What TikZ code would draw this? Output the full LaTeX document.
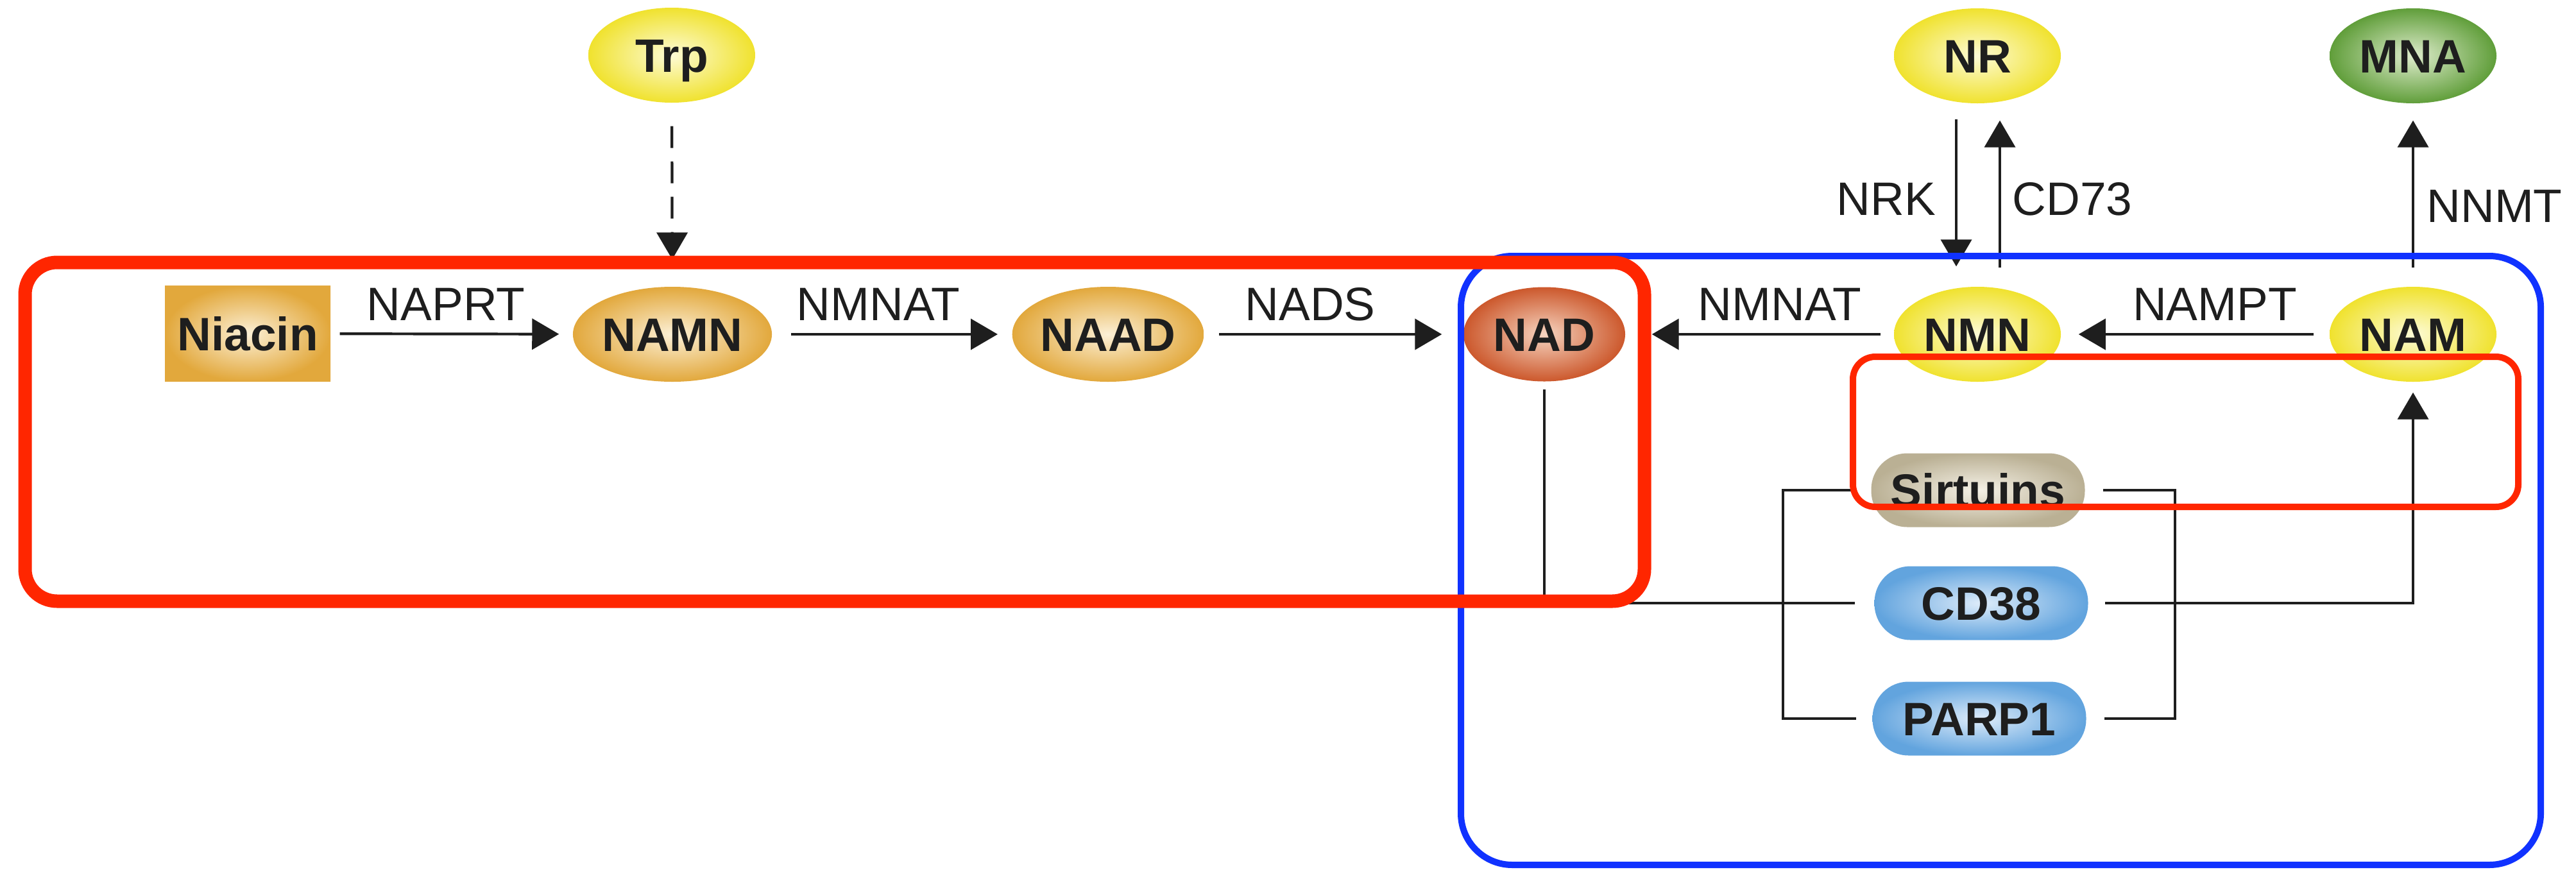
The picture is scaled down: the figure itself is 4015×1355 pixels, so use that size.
\documentclass[tikz,border=0pt]{standalone}
\usepackage{fontspec}
\setmainfont{Liberation Sans}
\usetikzlibrary{arrows.meta,shapes.geometric}
\definecolor{goldout}{RGB}{226,168,60}
\definecolor{goldin}{RGB}{252,240,214}
\definecolor{yelout}{RGB}{240,226,46}
\definecolor{yelin}{RGB}{253,251,214}
\definecolor{nadout}{RGB}{204,88,44}
\definecolor{nadin}{RGB}{246,212,192}
\definecolor{grnout}{RGB}{96,158,58}
\definecolor{grnin}{RGB}{222,236,204}
\definecolor{bluout}{RGB}{98,164,222}
\definecolor{bluin}{RGB}{222,236,250}
\definecolor{sirout}{RGB}{186,176,148}
\definecolor{sirin}{RGB}{245,241,230}
\definecolor{boxred}{RGB}{255,38,0}
\definecolor{boxblue}{RGB}{16,50,255}
\definecolor{ink}{RGB}{30,30,30}
\begin{document}
\begin{tikzpicture}[x=0.1mm,y=-0.1mm,
  lbl/.style={font=\fontsize{20.8pt}{24pt}\selectfont, anchor=base, inner sep=0pt, text=ink},
  mol/.style={ellipse, minimum width=26mm, minimum height=14.8mm, inner sep=0pt,
    shading=radial, font=\bfseries\fontsize{20.8pt}{24pt}\selectfont,
    text height=5.2mm, text depth=0mm, text=ink},
  gold/.style={inner color=goldin, outer color=goldout},
  yel/.style={inner color=yelin, outer color=yelout},
  enz/.style={rectangle, rounded corners=5.6mm, minimum width=33.3mm, minimum height=11.5mm,
    inner sep=0pt, shading=radial, font=\bfseries\fontsize{20.8pt}{24pt}\selectfont,
    text height=5.2mm, text depth=0mm, text=ink},
  conn/.style={draw=ink, line width=0.42mm},
  arr/.style={conn, -{Triangle[length=4.2mm,width=4.8mm]}}
]
\useasboundingbox (0,0) rectangle (4015,1355);

% molecules
\node[mol, rectangle, minimum width=25.8mm, minimum height=14.9mm, gold] (niacin) at (386,520) {Niacin};
\node[mol, yel] (trp) at (1047,86) {Trp};
\node[mol, gold] (namn) at (1048,521) {NAMN};
\node[mol, gold] (naad) at (1727,521) {NAAD};
\node[mol, minimum width=25.2mm, minimum height=14.7mm, inner color=nadin, outer color=nadout] (nad) at (2407,521) {NAD};
\node[mol, yel] (nr) at (3082,87) {NR};
\node[mol, yel] (nmn) at (3082,521) {NMN};
\node[mol, inner color=grnin, outer color=grnout] (mna) at (3761,87) {MNA};
\node[mol, yel] (nam) at (3761,521) {NAM};

% consumers
\node[enz, inner color=sirin, outer color=sirout] (sirt) at (3083,764) {Sirtuins};
\node[enz, inner color=bluin, outer color=bluout] (cd38) at (3088,940) {CD38};
\node[enz, inner color=bluin, outer color=bluout] (parp) at (3085,1120) {PARP1};

% enzyme labels
\node[lbl] (lnaprt) at (695,499) {NAPRT};
\node[lbl] (lnmnat1) at (1369,499) {NMNAT};
\node[lbl] (lnads) at (2042,499) {NADS};
\node[lbl] (lnmnat2) at (2774,499) {NMNAT};
\node[lbl] (lnampt) at (3452,499) {NAMPT};
\node[lbl] (lnrk) at (2940,335) {NRK};
\node[lbl] (lcd73) at (3230,335) {CD73};
\node[lbl] (lnnmt) at (3888,346) {NNMT};

% arrows
\draw[arr, shorten <=1.4mm, shorten >=2.1mm] (niacin) -- (namn);
\draw[arr, shorten <=2.9mm, shorten >=2.2mm] (namn) -- (naad);
\draw[arr, shorten <=2.3mm, shorten >=3.3mm] (naad) -- (nad);
\draw[arr, shorten <=2.0mm, shorten >=4.1mm] (nmn) -- (nad);
\draw[arr, shorten <=2.4mm, shorten >=2.7mm] (nam) -- (nmn);
\draw[arr, dash pattern=on 3.4mm off 2.1mm, shorten <=3.6mm, shorten >=4.2mm] (trp) -- (namn);
\draw[arr, shorten <=2.4mm, shorten >=3.1mm] ([xshift=-3.3mm]nr.south) -- ([xshift=-3.3mm]nmn.north);
\draw[arr, shorten <=2.9mm, shorten >=2.6mm] ([xshift=3.5mm]nmn.north) -- ([xshift=3.5mm]nr.south);
\draw[arr, shorten <=2.9mm, shorten >=2.6mm] (nam) -- (mna);

% NAD consumption lines
\coordinate (bl) at (2779,764);
\coordinate (blb) at (2779,1120);
\coordinate (br) at (3390,764);
\coordinate (brb) at (3390,1120);
\draw[conn] ([yshift=-1.2mm]nad.south) |- ([xshift=-3.0mm]cd38.west);
\draw[conn] ([xshift=-2.5mm]sirt.west) -- (bl) -- (blb) -- ([xshift=-2.5mm]parp.west);
\draw[conn] ([xshift=2.8mm]sirt.east) -- (br) -- (brb) -- ([xshift=2.8mm]parp.east);
\draw[arr] ([xshift=2.6mm]cd38.east) -| ([yshift=-1.6mm]nam.south);

% highlight boxes
\draw[boxblue, line width=1mm, rounded corners=8mm] (2277,399) rectangle (3960,1348);
\draw[boxred, line width=2.1mm, rounded corners=5mm] (39,409) rectangle (2563,937);
\draw[boxred, line width=1mm, rounded corners=3.5mm] (2888,556) rectangle (3925,790);
\end{tikzpicture}
\end{document}
